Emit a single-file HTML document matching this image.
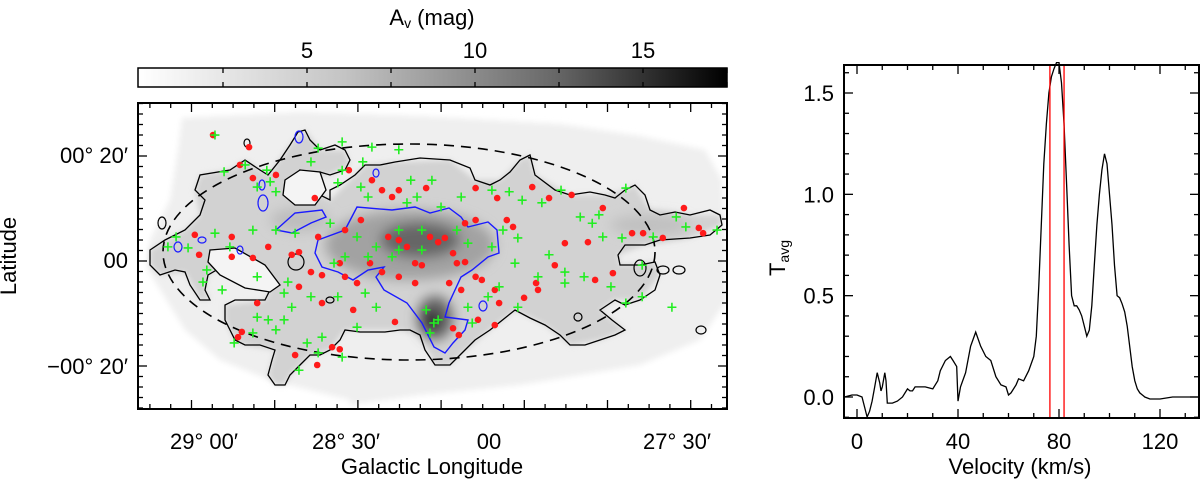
<!DOCTYPE html>
<html><head><meta charset="utf-8">
<style>
html,body{margin:0;padding:0;background:#fff;}
body{width:1200px;height:484px;overflow:hidden;font-family:"Liberation Sans",sans-serif;}
svg text{font-family:"Liberation Sans",sans-serif;fill:#000;}
</style></head>
<body>
<svg id="chart" width="1200" height="484" viewBox="0 0 1200 484" xmlns="http://www.w3.org/2000/svg">
<defs>
<linearGradient id="cbgrad" x1="0" x2="1" y1="0" y2="0">
<stop offset="0" stop-color="#ffffff"/><stop offset="0.35" stop-color="#c4c4c4"/><stop offset="0.7" stop-color="#6a6a6a"/><stop offset="1" stop-color="#000"/>
</linearGradient>
<filter id="blur6"><feGaussianBlur stdDeviation="6"/></filter>
<filter id="blur3"><feGaussianBlur stdDeviation="3"/></filter>
<clipPath id="mapclip"><rect x="138" y="103" width="589" height="306"/></clipPath>
</defs>

<g>
<text x="432" y="25" font-size="22" text-anchor="middle">A<tspan font-size="14" dy="3">v</tspan><tspan dy="-3"> (mag)</tspan></text>
<rect x="138" y="68" width="589" height="19" fill="url(#cbgrad)" stroke="#000" stroke-width="1.5"/>
<g id="cbticks"></g>
</g>

<g clip-path="url(#mapclip)">
<polygon fill="#efefef" filter="url(#blur3)" points="182,118 300,112 420,116 560,124 640,136 705,150 722,180 727,300 700,340 640,365 520,385 420,395 350,405 350,400 270,380 220,360 185,330 148,270 150,240 170,200 178,150"/>
<path fill="#d2d2d2" filter="url(#blur3)" d="M150,250 L185,230 200,215 195,190 200,175 230,170 245,160 268,175 290,145 305,130 320,150 345,150 350,165 330,175 310,175 295,180 330,200 355,175 365,165 395,162 450,160 475,180 500,180 520,160 530,155 535,175 570,195 605,195 625,190 635,185 650,210 690,215 720,215 722,225 690,238 645,245 618,255 620,265 655,262 660,275 640,300 615,300 600,310 625,330 600,340 570,345 545,325 515,310 490,330 460,355 450,365 435,365 420,335 400,330 345,330 330,350 310,355 290,375 285,385 275,385 268,375 275,350 245,345 235,340 225,320 225,305 265,300 270,290 245,275 220,268 208,275 205,290 210,300 200,300 185,272 160,275 150,265 Z"/>
<g filter="url(#blur6)">
<ellipse cx="410" cy="245" rx="85" ry="35" fill="#a2a2a2"/>
<ellipse cx="420" cy="240" rx="40" ry="18" fill="#666"/>
<ellipse cx="435" cy="318" rx="18" ry="22" fill="#666"/>
<ellipse cx="432" cy="320" rx="8" ry="10" fill="#222"/>
<ellipse cx="300" cy="220" rx="30" ry="12" fill="#bdbdbd"/>
<ellipse cx="650" cy="225" rx="40" ry="10" fill="#c0c0c0"/>
</g>
<path fill="none" stroke="#000" stroke-width="1.3" d="M150,250 L165,240 185,230 200,215 205,200 195,190 200,175 230,170 245,160 260,170 268,175 280,160 290,145 298,132 305,130 310,140 320,150 335,145 345,150 350,160 345,170 330,175 320,172 310,175 300,170 295,180 310,188 320,195 330,200 330,190 340,185 355,175 365,165 380,165 395,162 420,158 450,160 470,168 475,180 490,185 500,180 510,172 520,160 530,155 535,175 555,190 570,195 590,192 605,195 615,198 625,190 635,185 645,195 650,210 660,215 675,212 690,215 710,210 720,215 722,225 710,235 690,238 660,240 645,245 625,245 618,255 620,265 640,265 655,262 660,275 655,290 640,300 625,305 615,300 600,310 612,320 625,330 615,335 600,340 585,345 570,345 560,335 545,325 530,318 515,310 505,318 490,330 475,340 460,355 450,365 435,365 425,350 420,335 410,330 400,330 385,332 360,332 345,330 340,340 330,350 320,355 310,355 300,365 290,375 285,385 275,385 268,375 272,360 275,350 260,345 245,345 235,340 225,320 225,305 235,300 265,300 270,290 260,285 245,275 235,270 220,268 208,275 205,290 210,300 200,300 190,285 185,272 175,270 160,275 150,265 Z"/>
<path fill="#f4f4f4" stroke="#000" stroke-width="1.3" d="M210,250 L235,248 265,265 280,285 270,292 245,288 220,275 208,262 Z"/>
<path fill="#f4f4f4" stroke="#000" stroke-width="1.3" d="M285,180 L300,170 320,172 326,190 315,205 295,205 283,195 Z"/>
<path fill="none" stroke="#1a1aff" stroke-width="1.4" d="M318,240 L345,230 357,207 392,210 415,207 430,213 449,208 461,217 468,227 488,222 497,230 499,253 488,257 472,270 461,277 449,303 445,317 468,320 465,330 453,343 445,353 434,347 422,323 407,303 384,290 376,277 384,267 368,270 353,280 338,272 322,267 315,253 Z"/>
<path fill="none" stroke="#1a1aff" stroke-width="1.4" d="M276,230 L295,213 322,210 326,217 311,223 292,233 Z"/>
<g fill="none" stroke="#1a1aff" stroke-width="1.2">
<ellipse cx="299" cy="137" rx="4" ry="6"/><ellipse cx="262" cy="185" rx="3" ry="5"/><ellipse cx="263" cy="203" rx="5" ry="8"/><ellipse cx="178" cy="247" rx="4" ry="5"/><ellipse cx="202" cy="240" rx="4" ry="3"/><ellipse cx="240" cy="250" rx="3" ry="4"/><ellipse cx="376" cy="173" rx="3" ry="4"/><ellipse cx="483" cy="306" rx="4" ry="5"/>
</g>
<g fill="none" stroke="#000" stroke-width="1.2">
<ellipse cx="162" cy="223" rx="4" ry="6"/><ellipse cx="247" cy="143" rx="3" ry="4"/><ellipse cx="296" cy="262" rx="8" ry="8"/><ellipse cx="640" cy="268" rx="6" ry="8"/><ellipse cx="663" cy="270" rx="6" ry="4"/><ellipse cx="679" cy="270" rx="6" ry="4"/><ellipse cx="701" cy="330" rx="5" ry="4"/><ellipse cx="578" cy="317" rx="4" ry="4"/><ellipse cx="330" cy="300" rx="4" ry="3"/>
</g>
<ellipse cx="409" cy="252" rx="246" ry="108" fill="none" stroke="#000" stroke-width="1.6" stroke-dasharray="10,7"/>
<g id="reddots"></g>
<g id="greencross"></g>
</g>
<rect x="138" y="103" width="589" height="306" fill="none" stroke="#000" stroke-width="2"/>
<g id="mapticks"></g>
<text x="16" y="256" font-size="22" text-anchor="middle" transform="rotate(-90 16 256)">Latitude</text>
<text x="432" y="474" font-size="22" text-anchor="middle">Galactic Longitude</text>
<g font-size="22">
<text x="128" y="163" text-anchor="end">00° 20′</text>
<text x="128" y="268" text-anchor="end">00</text>
<text x="128" y="374" text-anchor="end">−00° 20′</text>
</g>
<g font-size="22" text-anchor="middle">
<text x="204" y="449">29° 00′</text>
<text x="346" y="449">28° 30′</text>
<text x="489" y="449">00</text>
<text x="677" y="449">27° 30′</text>
</g>

<g>
<g id="spec"></g>
<rect x="844" y="65" width="355" height="353" fill="none" stroke="#000" stroke-width="2"/>
<text x="785" y="258" font-size="22" text-anchor="middle" transform="rotate(-90 785 258)">T<tspan font-size="14" dy="4">avg</tspan></text>
<text x="1020" y="474" font-size="22" text-anchor="middle">Velocity (km/s)</text>
</g>
</svg>
<script>
const NS="http://www.w3.org/2000/svg";
const velocity=[-5,-2,0,2,3,4,5,6,7,8,9,9.5,10,11,11.5,12,14,16,18,20,21,22,23,25,27,30,32,33,35,37,38,39.5,40,41,43,45,47,49,51,53,55,57,59,60,61,63,64,66,68,70,71,72,73,74,75,76,77,78,79,80,81,82,83,84,85,86,87,88,89,90,91,92,93,94,95,96,97,98,99,100,101,102,103,104,105,106,107,108,109,110,111,112,114,116,120,125,130,135];
const tavg=[0.0,0.01,0.01,0.0,-0.05,-0.1,-0.07,-0.02,0.05,0.12,0.07,0.03,0.05,0.12,0.08,-0.03,-0.03,-0.02,0.0,0.04,0.03,0.03,0.05,0.05,0.05,0.04,0.08,0.13,0.18,0.2,0.18,0.15,-0.02,0.05,0.12,0.25,0.32,0.25,0.2,0.18,0.1,0.06,0.05,0.01,0.02,0.06,0.09,0.08,0.13,0.2,0.3,0.55,0.85,1.15,1.35,1.5,1.58,1.62,1.65,1.65,1.55,1.35,1.05,0.75,0.5,0.45,0.45,0.43,0.4,0.35,0.3,0.33,0.45,0.65,0.85,1.0,1.12,1.2,1.15,1.0,0.85,0.65,0.5,0.49,0.46,0.42,0.35,0.25,0.15,0.08,0.04,0.02,0.0,-0.01,-0.01,0.0,0.0,0.0];
const velTicks=[0,40,80,120];
const tTicks=[0.0,0.5,1.0,1.5];
const markerVel=[76.4,82];
const sx=v=>857+(v-0)*(1160-857)/120;
const sy=t=>397-t*(397-93)/1.5;
const spec=document.getElementById('spec');
function el(tag,attrs,parent){const e=document.createElementNS(NS,tag);for(const k in attrs)e.setAttribute(k,attrs[k]);parent.appendChild(e);return e;}
let d=velocity.map((v,i)=>(i?'L':'M')+sx(v).toFixed(1)+','+Math.min(417,sy(tavg[i])).toFixed(1)).join(' ');
const line=el('path',{d:d,fill:'none',stroke:'#000','stroke-width':1.3},spec);


markerVel.forEach(v=>{const l=el('line',{x1:sx(v),x2:sx(v),y1:65,y2:418,stroke:'#f00','stroke-width':1.3},spec);

});
for(let v=0;v<=130;v+=10){const x=sx(v),L=(v%40===0)?9:5;
el('line',{x1:x,x2:x,y1:418,y2:418-L,stroke:'#000','stroke-width':1.3},spec);
el('line',{x1:x,x2:x,y1:65,y2:65+L,stroke:'#000','stroke-width':1.3},spec);}
velTicks.forEach(v=>{const t=el('text',{x:sx(v),y:449,'font-size':22,'text-anchor':'middle'},spec);t.textContent=v;

});
for(let k=-1;k<=16;k++){const t=k/10,y=sy(t);if(y<65||y>418)continue;const L=(k%5===0)?9:5;
el('line',{x1:844,x2:844+L,y1:y,y2:y,stroke:'#000','stroke-width':1.3},spec);
el('line',{x1:1199,x2:1199-L,y1:y,y2:y,stroke:'#000','stroke-width':1.3},spec);}
tTicks.forEach(t=>{const e=el('text',{x:834,y:sy(t)+8,'font-size':22,'text-anchor':'end'},spec);e.textContent=t.toFixed(1);

});

const cbTicks=[5,10,15];
const cx=a=>139+a*33.6;
const cb=document.getElementById('cbticks');
for(let a=2.5;a<=17.5;a+=2.5){const x=cx(a);el('line',{x1:x,x2:x,y1:68,y2:73,stroke:'#000','stroke-width':1.3},cb);el('line',{x1:x,x2:x,y1:87,y2:82,stroke:'#000','stroke-width':1.3},cb);}
cbTicks.forEach(a=>{const t=el('text',{x:cx(a),y:58,'font-size':22,'text-anchor':'middle'},cb);t.textContent=a;

});

const redDl=[2.3,9.8,7.9,10.6,15.4,23.5,30.6,35.4,37.5,39.6,41,46.7,57,61.5,68.8,72.3,77,83.5,100.4,103.5,104.4,89.6,91.9,96,80.4,75.6,73.5,85.6,81.9,69.6,63.5,64.8,57,-1.5,-0.6,6.2,6.2,10.6,13.8,18.7,20.2,24.2,25,22.7,28.7,29.8,33.1,35,37.5,38.8,41,42.7,44.4,45.8,47.5,49.2,50.6,52.3,53.1,54.8,54.8,51.5,54,57,58.3,61,61.9,57.5,61,52.3,53.5,40.2,44.4,41,31.5,25,20.2,11.5,8.3,7.5,19.4,27.1,28.7,24,67.1,70,32.3,29.8];
const redB=[23.8,21.5,18.1,15.6,16.2,11.8,17.1,15.2,13.3,12,13.3,13.7,13.7,11.8,13.9,11.8,12.4,9.9,9.9,6.1,5.1,5.1,5.1,4.2,3.4,3.2,-1,-2.5,-3.8,-4.4,7.6,6.3,7.6,4.8,1,4.4,0.6,0.4,2.5,1,1.5,4.4,-2.9,-2.3,-0.6,5.7,7.6,-0.6,-2.3,4.4,3.8,2.5,-0.6,-1,4.4,3.4,4.2,1.3,-0.6,-0.4,7,-4.4,-5.7,-3.2,-3.8,-5.7,-8.2,-11.4,-12.4,-13,-14.3,-11.8,-4.4,-3.2,-9.5,-8.2,-5.1,-8.2,-13.7,-14.7,-18.1,-16.6,-17,-20,-7.2,-5.7,-4.4,-3.2];
const greenDl=[2.7,4.6,9,13.5,14.2,15.4,11.5,22.7,24.2,29.2,35.4,41,33.5,29.2,28.3,33.1,34.6,43.5,47.9,44.8,42.7,49.8,54,60.4,64,66.7,70.8,74.8,78.8,82.7,81.3,88.3,83.5,87.5,94,100.8,107.3,98.8,91.7,85.2,91.7,97.9,79.6,75.6,72.3,65.8,62.7,60.4,65.2,70,61.9,59.6,65.8,55.4,56.3,49.2,46.7,47.5,48.3,53.1,55.4,45.8,41,36.3,34.6,29.8,27.5,39.6,41,45.8,32.3,26.7,19.4,15.4,10.6,5.8,2.7,-5.4,-7.1,-2.9,1,0.2,4.2,11.5,17.9,17.1,22.7,28.3,34,18.7,13.8,11.5,17.1,15.4,10.6,6.7,21.9,24.2,29.2,20.2,25,36.3,32.3,75.6,88.3];
const greenB=[23.8,16.8,18.1,17.1,14.9,13,13.9,18.7,21.3,22.5,21.5,21,18.7,17.1,14.7,13.9,12,15.2,15.2,12,10.9,10.1,12,13.3,13,11.4,10.9,13.3,8.2,8.6,7,13.7,4.4,4.2,4.4,6.3,5.7,8.2,-1,-5.1,-7,-9,-3.2,-2.3,1,4.2,5.7,2.5,-0.6,-3.2,-5.1,-7,-9,-9,-12,-11.4,-9.5,-13.9,-12,5.7,3.2,5.7,5.7,2.5,0.6,0.6,-0.6,0.6,1.9,1.9,4.4,7,5.1,5.7,5.7,2.5,5.1,4.4,2.5,2.3,-1.9,-4.2,-5.7,-3.2,-4.2,-6.3,-7,-7,-6.3,-9,-11.4,-10.9,-11.4,-13.3,-13.9,-15.8,-15.8,-17.7,-18.5,-21,-14.7,-9,-12.8,-4.4,-8.2];
const mx=dl=>202+dl*4.8;
const my=b=>260-b*5.25;
const rg=document.getElementById('reddots');
redDl.forEach((dl,i)=>{const c=el('circle',{cx:mx(dl),cy:my(redB[i]),r:3.3,fill:'#ff1a1a'},rg);

});
const gg=document.getElementById('greencross');
greenDl.forEach((dl,i)=>{const x=mx(dl),y=my(greenB[i]);
const p=el('path',{d:`M${x-4.5},${y}H${x+4.5}M${x},${y-4.5}V${y+4.5}`,stroke:'#22ee22','stroke-width':1.6,fill:'none'},gg);

});

const mt=document.getElementById('mapticks');
for(let y=408;y>103;y-=10.5){const k=Math.round((260-y)/10.5);const L=(k%10===0)?9:5;
el('line',{x1:138,x2:138+L,y1:y,y2:y,stroke:'#000','stroke-width':1.3},mt);
el('line',{x1:727,x2:727-L,y1:y,y2:y,stroke:'#000','stroke-width':1.3},mt);}
for(let i=0;i<30;i++){const x=191.5+(i-4)*20.8;if(x<=139||x>=726)continue;const L=(i%4===0)?9:5;
el('line',{x1:x,x2:x,y1:409,y2:409-L,stroke:'#000','stroke-width':1.3},mt);
el('line',{x1:x,x2:x,y1:103,y2:103+L,stroke:'#000','stroke-width':1.3},mt);}
</script>
</body></html>
